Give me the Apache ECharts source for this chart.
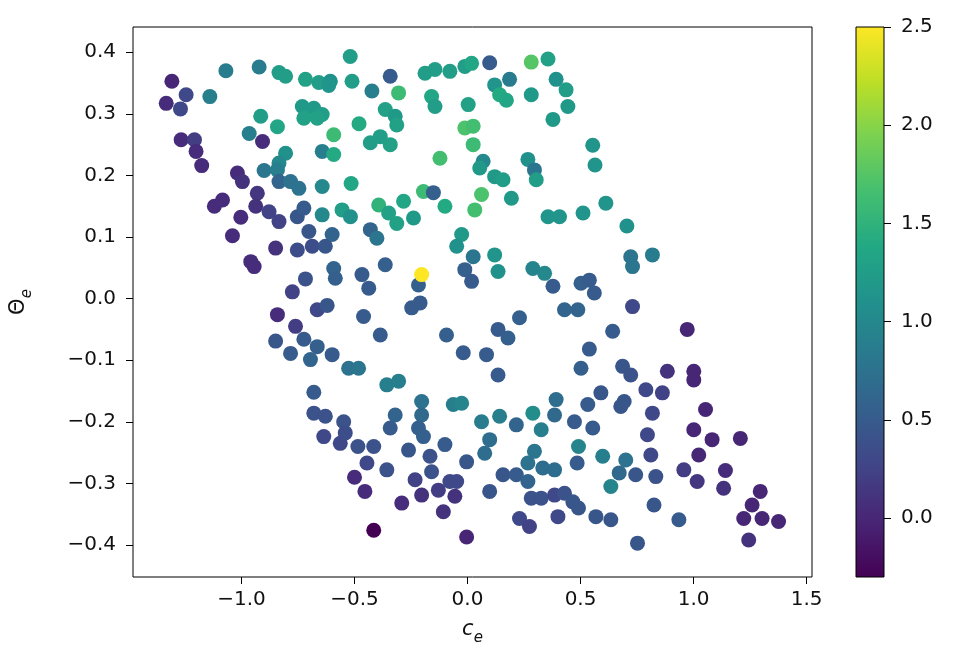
<!DOCTYPE html>
<html lang="en">
<head>
    <meta charset="UTF-8">
    <title>c_e vs Theta_e</title>
    <style>
        html, body { margin: 0; padding: 0; background: #fff; }
        #main { width: 970px; height: 660px; }
    </style>
</head>
<body>
    <div id="main"></div>

    <script src="https://cdn.jsdelivr.net/npm/echarts@6.0.0/dist/echarts.min.js"></script>
    <script type="text/javascript">
        // x values (c_e)
        var ce = [
            -0.519,-1.308,-1.069,-0.922,-0.834,-0.805,-0.717,-0.658,-0.607,-0.614,
            -0.511,-1.245,-1.333,-1.270,-1.140,-0.915,-0.841,-0.731,-0.680,-0.724,
            -0.643,-0.665,-0.480,-0.966,-0.907,-0.592,-1.267,-1.208,-1.201,-1.176,
            -0.805,-0.834,-0.643,-0.592,-0.900,-0.841,-1.018,-0.996,-0.834,-0.783,
            -0.746,-0.643,-0.515,-1.120,-1.084,-0.930,-0.937,-0.878,-0.834,-1.003,
            -1.040,-0.753,-0.724,-0.643,-0.555,-0.518,-0.702,-0.599,-0.849,-0.753,
            -0.687,-0.629,-0.959,-0.944,-0.717,-0.775,-0.592,-0.585,-0.467,
            // lower left
            -0.841,-0.665,-0.621,-0.761,-0.724,-0.849,-0.783,-0.665,-0.695,-0.599,
            -0.526,-0.482,-0.460,-0.680,-0.680,-0.629,-0.548,-0.636,-0.563,-0.541,
            -0.485,-0.500,-0.454,-0.445,
            // lower middle
            -0.247,-0.210,-0.386,-0.093,-0.019,0.084,0.135,0.179,0.230,0.135,
            0.429,0.488,0.502,-0.357,-0.305,-0.203,-0.203,-0.217,-0.195,-0.320,
            -0.342,-0.063,-0.026,0.062,0.142,0.216,0.289,0.326,0.392,0.385,
            0.473,0.491,-0.100,-0.261,0.098,0.076,-0.415,-0.357,-0.166,-0.159,
            -0.004,-0.232,-0.203,-0.129,-0.078,-0.048,-0.056,-0.107,-0.291,-0.415,
            -0.004,0.157,0.216,0.267,0.296,0.267,0.333,0.385,0.098,0.282,
            0.326,0.385,0.429,0.466,0.400,0.230,0.274,0.485,0.491,
            // lower right
            0.730,0.642,0.972,0.539,0.686,0.722,0.884,1.001,1.001,0.590,
            0.532,0.693,0.678,0.789,0.862,0.818,1.053,0.554,0.796,1.001,
            1.082,1.207,0.598,0.700,0.671,0.634,0.744,0.811,0.833,1.023,
            0.957,1.016,1.141,1.133,1.295,1.259,1.222,1.303,1.376,1.244,
            0.568,0.634,0.825,0.935,0.752,
            // upper middle
            -0.342,-0.423,-0.305,-0.188,-0.144,-0.078,-0.012,0.018,0.098,0.282,
            0.356,0.120,0.186,0.142,0.172,0.282,0.392,0.436,0.444,0.378,
            -0.159,-0.144,0.003,-0.364,-0.320,-0.313,-0.430,-0.386,-0.342,-0.012,
            0.025,0.025,-0.122,0.069,0.054,0.120,0.157,0.267,0.296,0.304,
            0.194,0.062,0.032,-0.195,-0.151,-0.100,-0.393,-0.349,-0.313,-0.283,
            -0.239,-0.430,-0.401,-0.026,-0.048,0.025,0.120,0.135,-0.364,-0.437,
            -0.217,-0.012,0.018,0.289,0.341,0.378,0.356,0.407,0.502,
            // upper right
            0.554,0.564,0.612,0.511,0.705,0.722,0.730,0.818,0.539,0.561,
            -0.203
        ];

        // y values (Theta_e)
        var theta = [
            0.393,0.353,0.370,0.376,0.367,0.361,0.356,0.351,0.353,0.346,
            0.353,0.331,0.317,0.308,0.328,0.296,0.279,0.312,0.309,0.293,
            0.299,0.293,0.284,0.268,0.255,0.266,0.258,0.258,0.239,0.216,
            0.236,0.220,0.239,0.234,0.208,0.209,0.204,0.190,0.190,0.190,
            0.179,0.182,0.187,0.150,0.160,0.171,0.150,0.141,0.125,0.132,
            0.102,0.133,0.147,0.136,0.144,0.133,0.109,0.104,0.082,0.079,
            0.085,0.085,0.060,0.052,0.032,0.011,0.049,0.033,0.039,
            -0.026,-0.018,-0.011,-0.045,-0.066,-0.069,-0.089,-0.078,-0.099,-0.091,
            -0.113,-0.113,-0.029,-0.152,-0.186,-0.191,-0.200,-0.224,-0.235,-0.218,
            -0.240,-0.290,-0.313,-0.267,
            -0.015,-0.007,-0.059,-0.059,-0.088,-0.091,-0.050,-0.064,-0.031,-0.124,
            -0.018,-0.018,-0.113,-0.140,-0.134,-0.167,-0.189,-0.210,-0.224,-0.189,
            -0.210,-0.172,-0.170,-0.200,-0.191,-0.205,-0.186,-0.213,-0.164,-0.189,
            -0.200,-0.240,-0.237,-0.246,-0.229,-0.251,-0.240,-0.278,-0.256,-0.281,
            -0.265,-0.294,-0.319,-0.311,-0.297,-0.297,-0.321,-0.346,-0.332,-0.376,
            -0.387,-0.286,-0.286,-0.297,-0.248,-0.267,-0.275,-0.278,-0.313,-0.324,
            -0.324,-0.319,-0.316,-0.330,-0.354,-0.357,-0.370,-0.267,-0.340,
            -0.013,-0.053,-0.050,-0.082,-0.110,-0.124,-0.118,-0.118,-0.132,-0.153,
            -0.172,-0.167,-0.175,-0.148,-0.153,-0.186,-0.180,-0.210,-0.221,-0.213,
            -0.229,-0.227,-0.256,-0.262,-0.283,-0.305,-0.286,-0.254,-0.289,-0.254,
            -0.278,-0.297,-0.279,-0.308,-0.313,-0.335,-0.357,-0.357,-0.362,-0.392,
            -0.354,-0.359,-0.335,-0.359,-0.397,
            0.361,0.337,0.334,0.366,0.372,0.369,0.377,0.382,0.383,0.384,
            0.389,0.347,0.356,0.331,0.322,0.331,0.356,0.339,0.312,0.291,
            0.328,0.312,0.315,0.307,0.296,0.282,0.253,0.263,0.250,0.277,
            0.280,0.250,0.228,0.223,0.212,0.198,0.193,0.226,0.209,0.193,
            0.163,0.169,0.144,0.174,0.172,0.150,0.152,0.139,0.122,0.158,
            0.131,0.112,0.098,0.104,0.085,0.068,0.071,0.044,0.055,0.017,
            0.022,0.047,0.028,0.049,0.041,0.020,0.133,0.133,0.025,
            0.249,0.217,0.155,0.139,0.118,0.068,0.052,0.071,0.030,0.009,
            0.039
        ];

        // colour values
        var colorVal = [
            1.25,0.0,0.85,0.85,1.25,1.25,1.3,1.25,1.1,1.15,
            1.25,0.3,0.05,0.3,0.9,1.25,1.35,1.2,1.2,1.3,
            1.25,1.3,1.4,0.9,0.05,1.6,0.05,0.2,0.05,0.05,
            1.1,1.0,0.9,1.4,0.8,0.9,0.05,0.1,0.6,0.75,
            0.75,1.0,1.35,0.05,0.05,0.15,0.1,0.25,0.25,0.05,
            0.05,0.45,0.5,1.0,1.25,1.1,0.45,0.6,0.1,0.35,
            0.35,0.45,0.05,0.05,0.4,0.25,0.6,0.55,0.5,
            0.05,0.3,0.45,0.2,0.5,0.45,0.5,0.55,0.6,0.5,
            0.75,0.8,0.5,0.5,0.4,0.4,0.4,0.3,0.3,0.35,
            0.4,0.05,0.05,0.3,
            0.5,0.5,0.5,0.55,0.5,0.5,0.5,0.55,0.55,0.5,
            0.6,0.6,0.55,0.9,0.9,0.75,0.65,0.55,0.55,0.6,
            0.5,0.9,0.95,0.85,0.9,0.6,1.05,0.9,0.7,0.65,
            0.5,0.95,0.5,0.45,0.7,0.7,0.4,0.4,0.4,0.4,
            0.45,0.25,0.1,0.2,0.3,0.3,0.1,0.1,0.05,-0.3,
            0.0,0.45,0.5,0.6,0.8,0.75,0.7,0.7,0.45,0.4,
            0.4,0.3,0.4,0.45,0.3,0.3,0.25,0.5,0.45,
            0.3,0.5,0.0,0.5,0.45,0.4,0.1,0.0,0.0,0.45,
            0.5,0.45,0.45,0.3,0.25,0.3,0.0,0.5,0.3,0.0,
            0.0,0.0,0.9,0.75,0.65,0.95,0.45,0.3,0.4,0.0,
            0.2,0.15,0.05,0.1,0.0,0.0,0.0,0.0,0.0,0.1,
            0.45,0.45,0.45,0.5,0.45,
            0.5,0.9,1.6,1.25,1.25,1.25,1.25,1.35,0.5,1.75,
            1.3,1.15,0.85,1.4,1.35,1.2,1.1,1.25,1.2,1.2,
            1.35,1.25,1.3,1.3,1.2,1.3,1.25,1.25,1.3,1.7,
            1.65,1.6,1.65,1.0,1.2,1.2,1.25,1.1,0.8,1.25,
            1.2,1.7,1.65,1.6,0.55,1.4,1.5,1.3,1.3,1.35,
            1.2,0.6,0.8,1.2,1.1,0.8,1.15,1.1,0.55,0.5,
            0.55,0.55,0.5,0.95,1.0,0.5,1.15,1.15,0.55,
            1.15,1.15,1.15,1.15,1.1,0.8,0.8,0.85,0.5,0.5,
            2.5
        ];

        var xTicks = [-1.0, -0.5, 0.0, 0.5, 1.0, 1.5];
        var yTicks = [-0.4, -0.3, -0.2, -0.1, 0.0, 0.1, 0.2, 0.3, 0.4];
        var cbTicks = [0.0, 0.5, 1.0, 1.5, 2.0, 2.5];
        var cbMin = -0.3, cbMax = 2.5;

        var viridis = ['#440154', '#482475', '#414487', '#355f8d', '#2a788e', '#21918c',
                       '#22a884', '#44bf70', '#7ad151', '#bddf26', '#fde725'];

        var points = [];
        for (var i = 0; i < ce.length; i++) {
            points.push([ce[i], theta[i], colorVal[i]]);
        }

        function fmt(v) {
            return v.toFixed(1).replace('-', '\u2212');
        }

        var font = 'DejaVu Sans';
        var fs = 20;
        var nameRich = {
            i: { fontSize: 21, fontStyle: 'italic', fontFamily: font, color: '#111', verticalAlign: 'top', lineHeight: 27 },
            t: { fontSize: 21, fontFamily: font, color: '#111', verticalAlign: 'top', lineHeight: 27 },
            s: { fontSize: 15, fontStyle: 'italic', fontFamily: font, color: '#111', verticalAlign: 'bottom', lineHeight: 27 }
        };

        var myChart = echarts.init(document.getElementById('main'));
        var option = {
            animation: false,
            backgroundColor: '#fff',
            textStyle: { fontFamily: font },
            grid: [
                { left: 130, top: 27, width: 682, height: 550, show: true, borderColor: '#000', borderWidth: 1 },
                { left: 856, top: 27, width: 28, height: 550 }
            ],
            xAxis: [{
                type: 'value',
                gridIndex: 0,
                min: -1.48,
                max: 1.524,
                splitLine: { show: false },
                axisLine: { show: false, onZero: false },
                axisTick: { show: true, length: 7, customValues: xTicks, lineStyle: { color: '#000' } },
                axisLabel: { customValues: xTicks, fontSize: fs, color: '#111', margin: 13, formatter: fmt },
                name: '{i|c}{s|e}',
                nameLocation: 'middle',
                nameGap: 42,
                nameTextStyle: { rich: nameRich }
            }, {
                type: 'value',
                gridIndex: 1,
                min: 0,
                max: 1,
                show: false
            }],
            yAxis: [{
                type: 'value',
                gridIndex: 0,
                min: -0.452,
                max: 0.441,
                splitLine: { show: false },
                axisLine: { show: false, onZero: false },
                axisTick: { show: true, length: 7, customValues: yTicks, lineStyle: { color: '#000' } },
                axisLabel: { customValues: yTicks, fontSize: fs, color: '#111', margin: 17, formatter: fmt },
                name: '{t|\u0398}{s|e}',
                nameLocation: 'middle',
                nameRotate: 90,
                nameGap: 98,
                nameTextStyle: { rich: nameRich }
            }, {
                type: 'value',
                gridIndex: 1,
                position: 'right',
                min: cbMin,
                max: cbMax,
                splitLine: { show: false },
                axisLine: { show: false, onZero: false },
                axisTick: { show: true, length: 7, customValues: cbTicks, lineStyle: { color: '#000' } },
                axisLabel: { customValues: cbTicks, fontSize: fs, color: '#111', margin: 17, formatter: fmt }
            }],
            visualMap: {
                type: 'continuous',
                show: false,
                min: cbMin,
                max: cbMax,
                dimension: 2,
                seriesIndex: 0,
                inRange: { color: viridis }
            },
            series: [{
                type: 'scatter',
                xAxisIndex: 0,
                yAxisIndex: 0,
                symbolSize: 15,
                itemStyle: { opacity: 1 },
                data: points
            }, {
                // colour bar
                type: 'custom',
                xAxisIndex: 1,
                yAxisIndex: 1,
                silent: true,
                renderItem: function (params, api) {
                    var lo = api.coord([0, api.value(1)]);
                    var hi = api.coord([1, api.value(2)]);
                    var stops = viridis.map(function (c, k) {
                        return { offset: k / (viridis.length - 1), color: c };
                    });
                    return {
                        type: 'rect',
                        shape: { x: lo[0], y: hi[1], width: hi[0] - lo[0], height: lo[1] - hi[1] },
                        style: { fill: new echarts.graphic.LinearGradient(0, 1, 0, 0, stops), stroke: '#000', lineWidth: 1 }
                    };
                },
                data: [[0, cbMin, cbMax]]
            }]
        };
        myChart.setOption(option);
    </script>
</body>
</html>
